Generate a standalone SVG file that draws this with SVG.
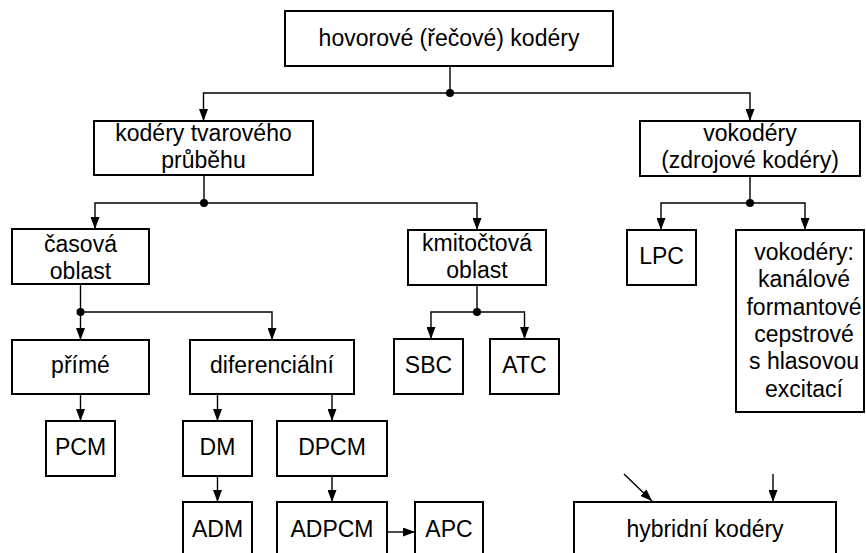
<svg xmlns="http://www.w3.org/2000/svg" width="866" height="553" viewBox="0 0 866 553">
<style>
.box{fill:#fff;stroke:#000;stroke-width:2}
.t{font-family:"Liberation Sans",Arial,sans-serif;font-size:23px;fill:#000;text-anchor:middle}
.c{fill:none;stroke:#000;stroke-width:1.4}
.a{marker-end:url(#ah)}
.dot{fill:#000}
</style>
<defs>
<marker id="ah" markerUnits="userSpaceOnUse" markerWidth="12" markerHeight="9" refX="12" refY="4.5" orient="auto">
<path d="M0,0 L12,4.5 L0,9 z" fill="#000"/>
</marker>
</defs>
<rect width="866" height="553" fill="#fff"/>
<g id="connectors">
<path class="c" d="M450,66 V93"/>
<path class="c a" d="M450,93 H203.5 V121"/>
<path class="c a" d="M450,93 H750 V121"/>
<path class="c" d="M204,175 V203"/>
<path class="c a" d="M204,203 H95 V229"/>
<path class="c a" d="M204,203 H477 V230"/>
<path class="c" d="M750,176 V203"/>
<path class="c a" d="M750,203 H661 V230"/>
<path class="c a" d="M750,203 H805 V230"/>
<path class="c" d="M80.5,284 V312"/>
<path class="c a" d="M80.5,312 V340"/>
<path class="c a" d="M80.5,312 H272 V340"/>
<path class="c" d="M477,285 V312"/>
<path class="c a" d="M477,312 H431 V339"/>
<path class="c a" d="M477,312 H524.5 V339"/>
<path class="c a" d="M80.5,394 V421"/>
<path class="c a" d="M217.5,394 V421"/>
<path class="c a" d="M332,394 V421"/>
<path class="c a" d="M217.5,476 V502"/>
<path class="c a" d="M332,476 V502"/>
<path class="c a" d="M387,532 H415"/>
<path class="c a" d="M624,474 L652,501"/>
<path class="c a" d="M773,474 V502"/>
<circle class="dot" cx="450" cy="93" r="4"/>
<circle class="dot" cx="204" cy="203" r="4"/>
<circle class="dot" cx="750" cy="203" r="4"/>
<circle class="dot" cx="80.5" cy="312" r="4"/>
<circle class="dot" cx="477" cy="312" r="4"/>
</g>
<g id="n_root"><rect class="box" x="285" y="11" width="328" height="55"/><text class="t" x="449" y="45.5">hovorové (řečové) kodéry</text></g>
<g id="n_waveform"><rect class="box" x="94" y="121" width="219" height="54"/><text class="t" x="203.5" y="141">kodéry tvarového</text><text class="t" x="203.5" y="168">průběhu</text></g>
<g id="n_vocoders"><rect class="box" x="640" y="121" width="220" height="55"/><text class="t" x="750" y="141">vokodéry</text><text class="t" x="750" y="168">(zdrojové kodéry)</text></g>
<g id="n_time"><rect class="box" x="12" y="229" width="137" height="55"/><text class="t" x="80.5" y="251.5">časová</text><text class="t" x="80.5" y="278.5">oblast</text></g>
<g id="n_freq"><rect class="box" x="408" y="230" width="138" height="55"/><text class="t" x="477" y="250.5">kmitočtová</text><text class="t" x="477" y="277.5">oblast</text></g>
<g id="n_lpc"><rect class="box" x="627" y="230" width="69" height="55"/><text class="t" x="661.5" y="263.5">LPC</text></g>
<g id="n_vocoder_types"><rect class="box" x="736" y="230" width="128" height="182"/><text class="t" x="804" y="260">vokodéry:</text><text class="t" x="804" y="287.3">kanálové</text><text class="t" x="804" y="314.6">formantové</text><text class="t" x="804" y="341.9">cepstrové</text><text class="t" x="804" y="369.2">s hlasovou</text><text class="t" x="804" y="396.5">excitací</text></g>
<g id="n_direct"><rect class="box" x="12" y="340" width="137" height="54"/><text class="t" x="80.5" y="372.5">přímé</text></g>
<g id="n_diff"><rect class="box" x="190" y="340" width="164" height="54"/><text class="t" x="272" y="372.5">diferenciální</text></g>
<g id="n_sbc"><rect class="box" x="394" y="339" width="69" height="55"/><text class="t" x="428.5" y="372.7">SBC</text></g>
<g id="n_atc"><rect class="box" x="490" y="339" width="69" height="55"/><text class="t" x="524.5" y="372.7">ATC</text></g>
<g id="n_pcm"><rect class="box" x="46" y="421" width="69" height="55"/><text class="t" x="80.5" y="455">PCM</text></g>
<g id="n_dm"><rect class="box" x="183" y="421" width="69" height="55"/><text class="t" x="217.5" y="455">DM</text></g>
<g id="n_dpcm"><rect class="box" x="277" y="421" width="110" height="55"/><text class="t" x="332" y="455">DPCM</text></g>
<g id="n_adm"><rect class="box" x="183" y="502" width="69" height="60"/><text class="t" x="217.5" y="536.5">ADM</text></g>
<g id="n_adpcm"><rect class="box" x="277" y="502" width="110" height="60"/><text class="t" x="332" y="536.5">ADPCM</text></g>
<g id="n_apc"><rect class="box" x="415" y="502" width="68" height="60"/><text class="t" x="449" y="536.5">APC</text></g>
<g id="n_hybrid"><rect class="box" x="574" y="502" width="262" height="60"/><text class="t" x="705" y="536.5">hybridní kodéry</text></g>
</svg>
